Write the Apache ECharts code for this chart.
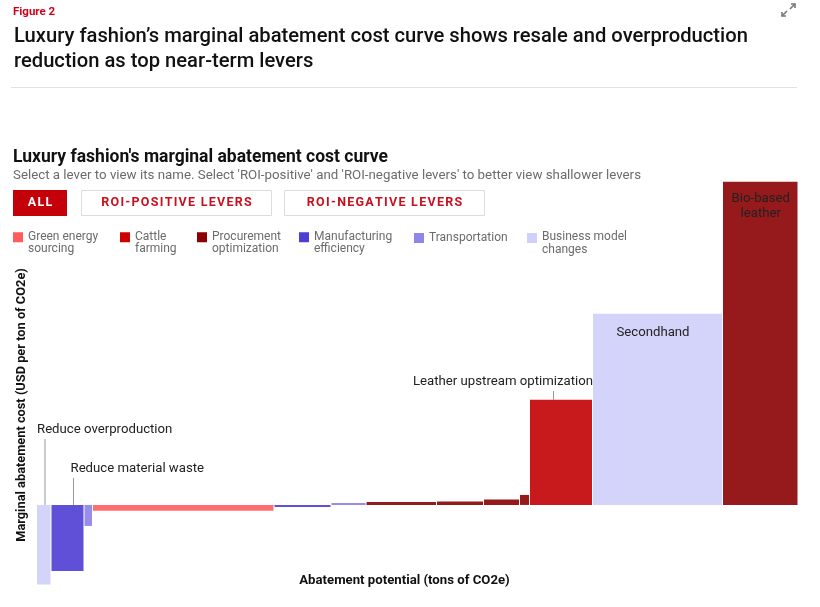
<!DOCTYPE html>
<html><head><meta charset="utf-8">
<script src="https://cdn.jsdelivr.net/npm/echarts@6/dist/echarts.min.js"></script>
<style>html,body{margin:0;padding:0;background:#fff}#c{width:820px;height:607px}</style>
</head><body><div id="c"></div>
<script>
// ---- DATA ----
const categories = ['Green energy sourcing','Cattle farming','Procurement optimization','Manufacturing efficiency','Transportation','Business model changes'];
const legendLabels = ['Green energy\nsourcing','Cattle\nfarming','Procurement\noptimization','Manufacturing\nefficiency','Transportation','Business model\nchanges'];
const leverNames = ['Reduce overproduction','Reduce material waste','Transportation lever','Green energy sourcing','Manufacturing efficiency lever','Transportation lever','Procurement lever','Procurement lever','Procurement lever','Procurement lever','Leather upstream optimization','Secondhand','Bio-based leather'];
const leverLabels = ['Reduce overproduction','Reduce material waste','','','','','','','','','Leather upstream optimization','Secondhand','Bio-based\nleather'];
const leverCategory = [5,3,4,0,3,4,2,2,2,2,1,5,2];
const abatementPotential = [14.5,33,8.5,181.5,57,35,70.5,47,36,10,63,130,75.5];
const abatementCost = [-79.5,-66,-21,-5.7,-2,2,3,3.5,5.5,10,105,191,323];
const buttonLabels = ['ALL','ROI-POSITIVE LEVERS','ROI-NEGATIVE LEVERS'];

// ---- STYLE ----
const categoryColors = ['#FF6E6E','#C8191C','#961A1B','#6050D8','#978DEA','#D4D4FA'];
const legendSwatch = ['#FF5C5C','#CC0000','#8B0000','#4E3DD6','#8E86E8','#D0D0FB'];
const legendLeft = [13,120,197,299,414,527];
const legendTop = [231,231,231,231,232,230];
const labelLayout = {
  0:{mode:'above',lineDx:8,lineLen:66,textDx:0,align:'left'},
  1:{mode:'above',lineDx:22,lineLen:27,textDx:19,align:'left'},
  10:{mode:'above',lineDx:23.5,lineLen:9,textDx:0,align:'right'},
  11:{mode:'inside',dy:18,dx:-5},
  12:{mode:'inside',dy:16,dx:0}
};
const FONT = 'Roboto, "Liberation Sans", sans-serif';
const spaced = s => s.split('').join('\u200A');

// cumulative x positions
const starts = [];
let acc = 0;
abatementPotential.forEach(w => { starts.push(acc); acc += w; });
const total = acc;

const chart = echarts.init(document.getElementById('c'), null, {renderer:'canvas'});

function renderItem(params, api) {
  const x0 = api.value(0), x1 = api.value(1), v = api.value(2), idx = api.value(3);
  const p0 = api.coord([x0, 0]);
  const p1 = api.coord([x1, v]);
  const top = Math.min(p0[1], p1[1]);
  const h = Math.abs(p1[1] - p0[1]);
  const w = p1[0] - p0[0] - 1;
  const children = [{
    type:'rect',
    shape:{x:p0[0], y:top, width:w, height:h},
    style:{fill: api.visual('color')}
  }];
  const lab = labelLayout[idx];
  const txt = leverLabels[idx];
  if (lab && txt) {
    if (lab.mode === 'above') {
      const lx = p0[0] + lab.lineDx;
      children.push({type:'line', shape:{x1:lx, y1:top, x2:lx, y2:top - lab.lineLen}, style:{stroke:'#999', lineWidth:1}});
      const tx = lab.align === 'left' ? p0[0] + lab.textDx : p1[0] + lab.textDx;
      children.push({type:'text', x:tx, y:top - lab.lineLen - 9, style:{text:txt, align:lab.align, verticalAlign:'middle', fill:'#222', font:'13.2px ' + FONT}});
    } else {
      children.push({type:'text', x:(p0[0]+p1[0])/2 + lab.dx, y:top + lab.dy - 7, style:{text:txt, align:'center', verticalAlign:'top', fill:'#222', font:'13.2px ' + FONT, lineHeight:15}});
    }
  }
  return {type:'group', children};
}

const series = categories.map((cat, ci) => ({
  type:'custom',
  name:cat,
  renderItem,
  itemStyle:{color:categoryColors[ci]},
  encode:{x:[0,1], y:2},
  data: leverCategory.map((c, i) => c === ci ? [starts[i], starts[i] + abatementPotential[i], abatementCost[i], i] : null).filter(Boolean),
  clip:false
}));

const legends = categories.map((cat, ci) => {
  const two = legendLabels[ci].includes('\n');
  return {
    data:[{name:cat, icon: two ? 'path://M0,0L10,0L10,10L0,10Z M0,21L0.01,21L0,21.01Z' : 'rect', itemStyle:{color:legendSwatch[ci]}}],
    left:legendLeft[ci],
    top:legendTop[ci],
    orient:'horizontal',
    itemWidth:10,
    itemHeight: two ? 21 : 10,
    itemGap:0,
    padding:0,
    selectedMode:false,
    formatter:() => legendLabels[ci],
    textStyle:{color:'#6b6b6b', fontSize:12, fontFamily:FONT, lineHeight:ci === 5 ? 13.5 : 11.5}
  };
});

const graphic = [
  {type:'text', x:13, y:12, style:{text:'Figure 2', fill:'#D0021B', font:'bold 11.5px ' + FONT, verticalAlign:'middle'}},
  {type:'group', children:[
    {type:'line', shape:{x1:790, y1:9, x2:795, y2:4}, style:{stroke:'#777', lineWidth:1.6}},
    {type:'polyline', shape:{points:[[791,4],[795,4],[795,8]]}, style:{stroke:'#777', lineWidth:1.6, fill:null}},
    {type:'line', shape:{x1:787, y1:11, x2:782, y2:16}, style:{stroke:'#777', lineWidth:1.6}},
    {type:'polyline', shape:{points:[[782,12],[782,16],[786,16]]}, style:{stroke:'#777', lineWidth:1.6, fill:null}}
  ]},
  {type:'text', x:14, y:37, style:{text:'Luxury fashion\u2019s marginal abatement cost curve shows resale and overproduction', fill:'#111', font:'500 20.2px ' + FONT, verticalAlign:'middle'}},
  {type:'text', x:14, y:62, style:{text:'reduction as top near-term levers', fill:'#111', font:'500 20.2px ' + FONT, verticalAlign:'middle'}},
  {type:'line', shape:{x1:11, y1:87.5, x2:797, y2:87.5}, style:{stroke:'#e2e2e2', lineWidth:1}},
  {type:'text', x:13, y:158, style:{text:'Luxury fashion\'s marginal abatement cost curve', fill:'#111', font:'bold 17.5px ' + FONT, verticalAlign:'middle'}},
  {type:'text', x:13, y:175.5, style:{text:'Select a lever to view its name. Select \'ROI-positive\' and \'ROI-negative levers\' to better view shallower levers', fill:'#6b6b6b', font:'13.3px ' + FONT, verticalAlign:'middle'}},
  {type:'rect', shape:{x:13, y:190, width:54, height:26}, style:{fill:'#C4000B'}},
  {type:'text', x:40, y:203, style:{text:spaced(buttonLabels[0]), fill:'#fff', font:'bold 12.5px ' + FONT, align:'center', verticalAlign:'middle'}},
  {type:'rect', shape:{x:81.5, y:190.5, width:190, height:25}, style:{fill:'#fff', stroke:'#dcdcdc', lineWidth:1}},
  {type:'text', x:176.5, y:203, style:{text:spaced(buttonLabels[1]), fill:'#C8101E', font:'bold 12.5px ' + FONT, align:'center', verticalAlign:'middle'}},
  {type:'rect', shape:{x:284.5, y:190.5, width:200, height:25}, style:{fill:'#fff', stroke:'#dcdcdc', lineWidth:1}},
  {type:'text', x:384.5, y:203, style:{text:spaced(buttonLabels[2]), fill:'#C8101E', font:'bold 12.5px ' + FONT, align:'center', verticalAlign:'middle'}},
  {type:'text', x:404.5, y:581, style:{text:'Abatement potential (tons of CO2e)', fill:'#111', font:'bold 13.2px ' + FONT, align:'center', verticalAlign:'middle'}},
  {type:'text', x:22, y:405, rotation:Math.PI/2, style:{text:'Marginal abatement cost (USD per ton of CO2e)', fill:'#111', font:'bold 12.8px ' + FONT, align:'center', verticalAlign:'middle'}}
];

chart.setOption({
  animation:false,
  backgroundColor:'#fff',
  grid:{left:37, right:21.5, top:181.7, bottom:22.5},
  xAxis:{type:'value', min:0, max:total, axisLine:{show:false}, axisTick:{show:false}, axisLabel:{show:false}, splitLine:{show:false}},
  yAxis:{type:'value', min:-79.5, max:323, axisLine:{show:false}, axisTick:{show:false}, axisLabel:{show:false}, splitLine:{show:false}},
  legend:legends,
  graphic,
  series
});
</script></body></html>
